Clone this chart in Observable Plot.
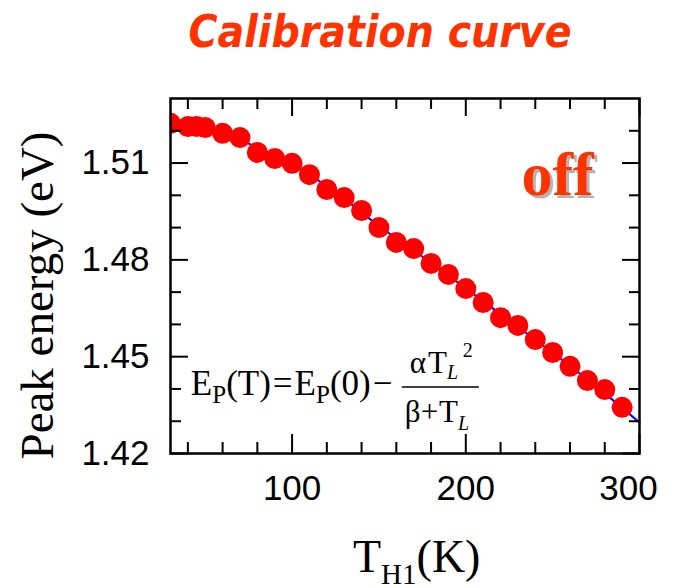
<!DOCTYPE html>
<html>
<head>
<meta charset="utf-8">
<script src="https://cdn.jsdelivr.net/npm/d3@7"></script>
<script src="https://cdn.jsdelivr.net/npm/@observablehq/plot@0.6"></script>
<style>
  body { margin: 0; background: #fff; width: 674px; height: 588px; overflow: hidden; }
  #title, #chart { display: block; }
  svg { display: block; }
</style>
</head>
<body>
<div id="title"></div>
<div id="chart"></div>
<script>
// ---- data ----
const temperature = [30, 40, 45, 50, 60, 70, 80, 90, 100, 110, 120, 130, 140, 150, 160, 170, 180, 190, 200, 210, 220, 230, 240, 250, 260, 270, 280, 290];
const peakEnergy = [1.5223, 1.5213, 1.5213, 1.5210, 1.5192, 1.5179, 1.5133, 1.5114, 1.5099, 1.5064, 1.5018, 1.4993, 1.4953, 1.4900, 1.4854, 1.4835, 1.4789, 1.4755, 1.4711, 1.4668, 1.4621, 1.4597, 1.4553, 1.4513, 1.4470, 1.4426, 1.4398, 1.4343];
const fitTemperature = [30, 50, 75, 100, 125, 150, 175, 200, 225, 250, 275, 300];
const fitEnergy = [1.5222, 1.5208, 1.5160, 1.5095, 1.5010, 1.4905, 1.4810, 1.4712, 1.4612, 1.4512, 1.4408, 1.4296];
const xLabelTicks = [100, 200];
const xLastLabelTick = [300];
const xMajorTicks = [100, 200, 300];
const xMinorTicks = [40, 60, 80, 120, 140, 160, 180, 220, 240, 260, 280];
const yMajorTicks = [1.42, 1.45, 1.48, 1.51];
const yMinorTicks = [1.43, 1.44, 1.46, 1.47, 1.49, 1.50, 1.52];
const offLabel = [{t: 232, e: 1.5000, text: "off"}];
const formulaAnchor = {t: 42, e: 1.4380};
const titleText = "Calibration curve";

const points = temperature.map((t, i) => ({t, e: peakEnergy[i]}));
const fit = fitTemperature.map((t, i) => ({t, e: fitEnergy[i]}));

// ---- title (above the plot svg) ----
const tsvg = d3.select("#title").append("svg").attr("width", 674).attr("height", 70);
tsvg.append("text")
  .attr("transform", "translate(380,47) scale(0.9,1)")
  .attr("text-anchor", "middle")
  .attr("font-family", "'DejaVu Sans', sans-serif")
  .attr("font-weight", "bold")
  .attr("font-style", "italic")
  .attr("font-size", 44)
  .attr("fill", "#ff3300")
  .text(titleText);

const blank = () => "";
const tickFont = {fontFamily: "'Liberation Sans', Arial, sans-serif", fontSize: 35, fill: "black"};

const plot = Plot.plot({
  width: 674,
  height: 518,
  marginTop: 28,
  marginBottom: 135,
  marginLeft: 170,
  marginRight: 35,
  x: {domain: [30, 300], label: null},
  y: {domain: [1.42, 1.53], label: null},
  style: {background: "white", color: "black", overflow: "visible"},
  marks: [
    Plot.line(fit, {x: "t", y: "e", stroke: "#0000ff", strokeWidth: 2, curve: "catmull-rom"}),
    Plot.dot(points, {x: "t", y: "e", r: 10.5, fill: "#ff0000", clip: true}),
    Plot.text(offLabel, {x: "t", y: "e", text: "text", textAnchor: "start", lineAnchor: "bottom",
      fontFamily: "'Liberation Serif', 'Times New Roman', serif", fontWeight: "bold", fontSize: 62, fill: "#ff3300"}),
    // inward ticks, all four sides
    Plot.axisX(xMinorTicks, {anchor: "bottom", tickSize: -11, strokeWidth: 2, tickFormat: blank, label: null}),
    Plot.axisX(xMajorTicks, {anchor: "bottom", tickSize: -19, strokeWidth: 2, tickFormat: blank, label: null}),
    Plot.axisX(xMinorTicks, {anchor: "top", tickSize: -10, strokeWidth: 2, tickFormat: blank, label: null}),
    Plot.axisX(xMajorTicks, {anchor: "top", tickSize: -17, strokeWidth: 2, tickFormat: blank, label: null}),
    Plot.axisY(yMinorTicks, {anchor: "left", tickSize: -11, strokeWidth: 2, tickFormat: blank, label: null}),
    Plot.axisY(yMajorTicks, {anchor: "left", tickSize: -18, strokeWidth: 2, tickFormat: blank, label: null}),
    Plot.axisY(yMinorTicks, {anchor: "right", tickSize: -11, strokeWidth: 2, tickFormat: blank, label: null}),
    Plot.axisY(yMajorTicks, {anchor: "right", tickSize: -18, strokeWidth: 2, tickFormat: blank, label: null}),
    // tick labels
    Plot.axisX(xLabelTicks, {anchor: "bottom", tickSize: 0, tickPadding: 22, tickFormat: d3.format("d"), label: null, ...tickFont}),
    Plot.axisX(xLastLabelTick, {anchor: "bottom", tickSize: 0, tickPadding: 22, dx: -11, tickFormat: d3.format("d"), label: null, ...tickFont}),
    Plot.axisY(yMajorTicks, {anchor: "left", tickSize: 0, tickPadding: 21, tickFormat: d3.format(".2f"), label: null, ...tickFont}),
    Plot.frame({stroke: "black", strokeWidth: 2.5})
  ]
});

document.getElementById("chart").appendChild(plot);

const svg = d3.select(plot);
// grey drop shadow on the "off" label
svg.selectAll("text").filter(function() { return this.textContent === "off"; })
  .style("filter", "drop-shadow(3px 3px 0px #b4b4b4)");

// ---- annotations with sub/superscripts ----
const xs = plot.scale("x"), ys = plot.scale("y");
const serif = "'Liberation Serif', 'Times New Roman', serif";
const H = 518, mL = 170, mT = 28, mB = 135;

// y-axis title
svg.append("text")
  .attr("transform", `translate(${mL - 117},${(mT + H - mB) / 2 + 20}) rotate(-90)`)
  .attr("text-anchor", "middle")
  .attr("font-family", serif)
  .attr("font-size", 47)
  .attr("fill", "black")
  .text("Peak energy (eV)");

// x-axis title T_H1(K)
const xt = svg.append("text")
  .attr("x", mL + 183)
  .attr("y", H - mB + 119)
  .attr("text-anchor", "start")
  .attr("font-family", serif)
  .attr("font-size", 46)
  .attr("fill", "black");
xt.append("tspan").text("T");
xt.append("tspan").attr("font-size", 29).attr("dy", 12).text("H1");
xt.append("tspan").attr("font-size", 46).attr("dy", -12).text("(K)");

// formula
const fx = xs.apply(formulaAnchor.t), fy = ys.apply(formulaAnchor.e);
const g = svg.append("g").attr("transform", `translate(${fx},${fy})`)
  .attr("font-family", serif).attr("fill", "black").attr("text-anchor", "start");
const main = g.append("text").attr("x", 0).attr("y", 0).attr("font-size", 35);
main.append("tspan").text("E");
main.append("tspan").attr("font-size", 25).attr("dy", 8).text("P");
main.append("tspan").attr("dy", -8).text("(T)");
main.append("tspan").attr("dx", 2).text("=");
main.append("tspan").attr("dx", 2).text("E");
main.append("tspan").attr("font-size", 25).attr("dy", 8).text("P");
main.append("tspan").attr("dy", -8).text("(0)");
main.append("tspan").attr("dx", 2).text("\u2212");

g.append("line").attr("x1", 211).attr("x2", 288).attr("y1", -8).attr("y2", -8)
  .attr("stroke", "black").attr("stroke-width", 1.5);

const num = g.append("text").attr("x", 219).attr("y", -22).attr("font-size", 31);
num.append("tspan").text("\u03b1");
num.append("tspan").attr("dx", 2).text("T");
num.append("tspan").attr("font-size", 20).attr("font-style", "italic").attr("dy", 6).text("L");
g.append("text").attr("x", 272).attr("y", -38).attr("font-size", 20).text("2");

const den = g.append("text").attr("x", 214).attr("y", 27).attr("font-size", 31);
den.append("tspan").text("\u03b2");
den.append("tspan").text("+");
den.append("tspan").attr("dx", 1).text("T");
den.append("tspan").attr("font-size", 20).attr("font-style", "italic").attr("dy", 8).text("L");
</script>
</body>
</html>
